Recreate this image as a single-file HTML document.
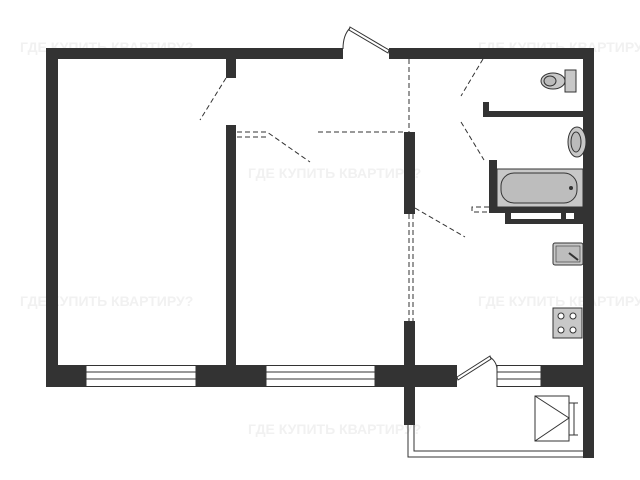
<!DOCTYPE html>
<html><head><meta charset="utf-8"><style>
html,body{margin:0;padding:0;background:#fff;width:640px;height:480px;overflow:hidden}
svg{display:block}
</style></head><body>
<svg width="640" height="480" viewBox="0 0 640 480" xmlns="http://www.w3.org/2000/svg">
<g font-family="Liberation Sans, sans-serif" font-weight="bold" font-size="14" fill="#f1f1f1">
<text x="20" y="52">ГДЕ КУПИТЬ КВАРТИРУ?</text>
<text x="478" y="52">ГДЕ КУПИТЬ КВАРТИРУ?</text>
<text x="248" y="178">ГДЕ КУПИТЬ КВАРТИРУ?</text>
<text x="20" y="306">ГДЕ КУПИТЬ КВАРТИРУ?</text>
<text x="478" y="306">ГДЕ КУПИТЬ КВАРТИРУ?</text>
<text x="248" y="434">ГДЕ КУПИТЬ КВАРТИРУ?</text>
</g>
<g fill="#333">
<!-- outer walls -->
<rect x="46" y="48" width="297" height="11"/>
<rect x="389" y="48" width="205" height="11"/>
<rect x="46" y="48" width="12" height="339"/>
<rect x="583" y="48" width="11" height="410"/>
<!-- bottom band -->
<rect x="46" y="365" width="40" height="22"/>
<rect x="196" y="365" width="70" height="22"/>
<rect x="375" y="365" width="82" height="22"/>
<rect x="541" y="365" width="53" height="22"/>
<!-- inner walls -->
<rect x="226" y="58" width="10" height="20"/>
<rect x="226" y="125" width="10" height="242"/>
<rect x="404" y="132" width="11" height="82"/>
<rect x="404" y="321" width="11" height="104"/>
<!-- bathroom -->
<rect x="483" y="111" width="100" height="6"/>
<rect x="483" y="102" width="6" height="15"/>
<rect x="489" y="160" width="8" height="53"/>
<rect x="489" y="207" width="94" height="6"/>
<rect x="505" y="207" width="78" height="17"/>
</g>
<rect x="511" y="213" width="50" height="6" fill="#fff"/>
<rect x="566" y="213" width="8" height="6" fill="#fff"/>
<!-- windows -->
<g fill="#fff" stroke="#333" stroke-width="1">
<rect x="86" y="365.5" width="110" height="21"/>
<rect x="266" y="365.5" width="109" height="21"/>
<rect x="497" y="365.5" width="44" height="21"/>
</g>
<g stroke="#333" stroke-width="1">
<line x1="86" y1="372" x2="196" y2="372"/><line x1="86" y1="379" x2="196" y2="379"/>
<line x1="266" y1="372" x2="375" y2="372"/><line x1="266" y1="379" x2="375" y2="379"/>
<line x1="497" y1="372" x2="541" y2="372"/><line x1="497" y1="379" x2="541" y2="379"/>
</g>
<!-- doors -->
<g fill="none" stroke="#333" stroke-width="1">
<polygon points="350,27 389,50 388,53 349,30" fill="#fff"/>
<path d="M343,49 Q343,35 350,28"/>
<polygon points="457,377 490,356 491,359 458,380" fill="#fff"/>
<path d="M490,357 Q497,362 497,370"/>
<!-- balcony -->
<polyline points="408,387 408,457 594,457"/>
<polyline points="414,387 414,451 583,451"/>
<rect x="535" y="396" width="34" height="45"/>
<polyline points="535,396 569,418 535,441"/>
<line x1="574" y1="403" x2="574" y2="435"/>
<line x1="569" y1="403" x2="578" y2="403"/><line x1="569" y1="435" x2="578" y2="435"/>
</g>
<!-- dashed lines -->
<g fill="none" stroke="#333" stroke-width="1" stroke-dasharray="5,3">
<line x1="226" y1="78" x2="200" y2="120"/>
<line x1="409" y1="59" x2="409" y2="132"/>
<polyline points="237,132 267,132 310,162"/>
<line x1="237" y1="137" x2="267" y2="137"/>
<line x1="318" y1="132" x2="404" y2="132"/>
<line x1="483" y1="59" x2="461" y2="96"/>
<line x1="461" y1="122" x2="484" y2="160"/>
<line x1="415" y1="208" x2="465" y2="237"/>
<line x1="409" y1="214" x2="409" y2="321"/>
<line x1="413" y1="214" x2="413" y2="321"/>
<polyline points="489,207 472,207 472,212 489,212"/>
</g>
<!-- bathtub -->
<rect x="497" y="169" width="86" height="38" fill="#c8c8c8" stroke="#333"/>
<rect x="501" y="173" width="76" height="30" rx="13" fill="#bdbdbd" stroke="#333"/>
<circle cx="571" cy="188" r="2" fill="#333"/>
<!-- toilet -->
<rect x="565" y="70" width="11" height="22" fill="#c8c8c8" stroke="#333"/>
<ellipse cx="553" cy="81" rx="12" ry="8" fill="#c8c8c8" stroke="#333"/>
<ellipse cx="550" cy="81" rx="6" ry="5" fill="#bbb" stroke="#333"/>
<!-- sink -->
<ellipse cx="577" cy="142" rx="9" ry="15" fill="#c8c8c8" stroke="#333"/>
<ellipse cx="576" cy="142" rx="5" ry="10" fill="#bbb" stroke="#333"/>
<!-- kitchen sink -->
<rect x="553" y="243" width="30" height="22" rx="2" fill="#c8c8c8" stroke="#333"/>
<rect x="556" y="246" width="24" height="16" fill="#bdbdbd" stroke="#333" stroke-width="0.6"/>
<line x1="569" y1="253" x2="578" y2="260" stroke="#333" stroke-width="2"/>
<!-- stove -->
<rect x="553" y="308" width="29" height="30" fill="#c8c8c8" stroke="#333"/>
<g fill="#fff" stroke="#333"><circle cx="561" cy="316" r="3"/><circle cx="573" cy="316" r="3"/><circle cx="561" cy="330" r="3"/><circle cx="573" cy="330" r="3"/></g>
</svg>
</body></html>
